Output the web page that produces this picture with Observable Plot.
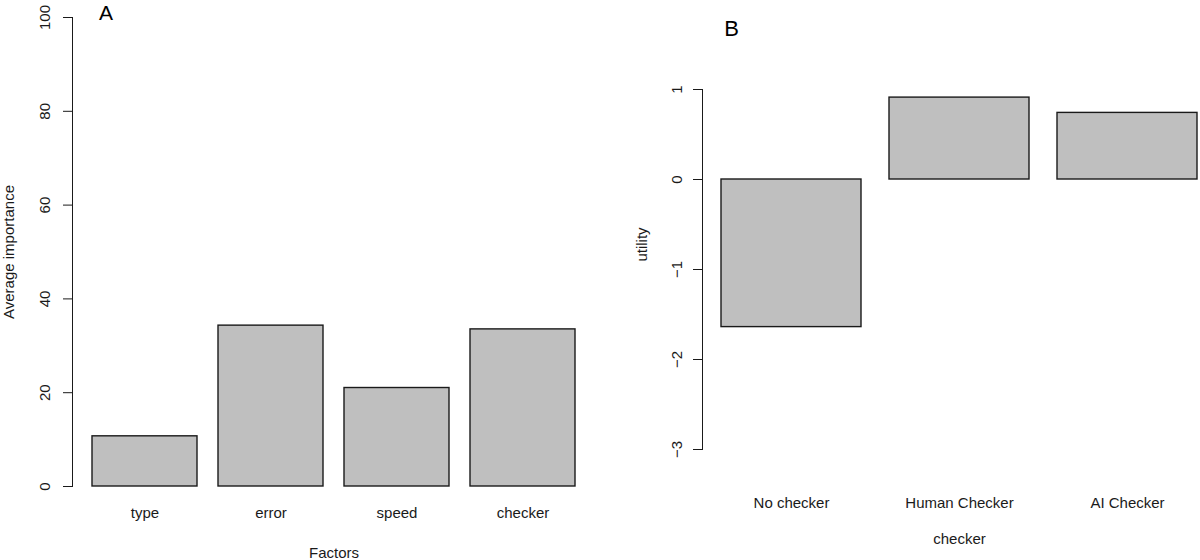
<!DOCTYPE html>
<html><head><meta charset="utf-8">
<script src="https://cdn.jsdelivr.net/npm/d3@7"></script>
<script src="https://cdn.jsdelivr.net/npm/@observablehq/plot@0.6"></script>
<style>
html,body{margin:0;padding:0;background:#fff;overflow:hidden;width:1200px;height:560px;}
#wrap{position:relative;width:1200px;height:560px;overflow:hidden;}
.panel{position:absolute;top:0;}
.panel svg{max-width:none !important;}
</style></head><body><div id="wrap"><div id="pa" class="panel" style="left:0;width:600px"></div><div id="pb" class="panel" style="left:600px;width:616px"></div></div>
<script>
// Panel A data
const factors = ["type", "error", "speed", "checker"];
const importance = [10.7, 34.3, 21.0, 33.5];
const importanceTicks = [0, 20, 40, 60, 80, 100];
// Panel B data
const checkers = ["No checker", "Human Checker", "AI Checker"];
const utility = [-1.64, 0.91, 0.74];
const utilityTicks = [-3, -2, -1, 0, 1];

const font = "'Liberation Sans', Arial, Helvetica, sans-serif";
const ink = "#1a1a1a";
const barFill = "#bfbfbf";

const dataA = factors.map((f, i) => ({factor: f, value: importance[i]}));
const dataB = checkers.map((c, i) => ({checker: c, value: utility[i]}));

const plotA = Plot.plot({
  width: 600, height: 560,
  marginLeft: 72, marginRight: 5, marginTop: 17, marginBottom: 74,
  style: {fontFamily: font, fontSize: "15px", color: ink, background: "transparent", overflow: "visible"},
  x: {type: "band", domain: factors, paddingInner: 0.1667, paddingOuter: 0.153},
  y: {domain: [0, 100]},
  marks: [
    Plot.rectY(dataA, {x: "factor", y: "value", fill: barFill, stroke: ink, strokeWidth: 1.4}),
    Plot.axisY({ticks: importanceTicks, tickSize: 9, tickFormat: () => "", stroke: ink, label: null}),
    Plot.axisX({ticks: [], label: null}),
    Plot.frame({anchor: "left", stroke: ink}),
    Plot.text(importanceTicks, {y: d => d, text: d => String(d), frameAnchor: "left", textAnchor: "middle", dx: -27, rotate: -90, fontSize: 15, fill: ink}),
    Plot.text(factors, {x: d => d, text: d => d, frameAnchor: "bottom", textAnchor: "middle", lineAnchor: "bottom", dy: 31, fontSize: 15, fill: ink}),
    Plot.text(["Factors"], {frameAnchor: "bottom", textAnchor: "middle", lineAnchor: "bottom", dy: 71, fontSize: 15, fill: ink}),
    Plot.text(["Average importance"], {frameAnchor: "left", textAnchor: "middle", dx: -63, rotate: -90, fontSize: 15, fill: ink}),
    Plot.text(["A"], {frameAnchor: "top-left", dx: 33.5, dy: 2.5, lineAnchor: "bottom", textAnchor: "middle", fontSize: 21, fill: "#000"})
  ]
});
document.getElementById("pa").appendChild(plotA);

const plotB = Plot.plot({
  width: 616, height: 560,
  marginLeft: 102, marginRight: 0, marginTop: 89, marginBottom: 111,
  style: {fontFamily: font, fontSize: "15px", color: ink, background: "transparent", overflow: "visible"},
  x: {type: "band", domain: checkers, paddingInner: 0.1667, paddingOuter: 0.113},
  y: {domain: [-3, 1]},
  marks: [
    Plot.rectY(dataB, {x: "checker", y1: 0, y2: "value", fill: barFill, stroke: ink, strokeWidth: 1.4}),
    Plot.axisY({ticks: utilityTicks, tickSize: 9, tickFormat: () => "", stroke: ink, label: null}),
    Plot.axisX({ticks: [], label: null}),
    Plot.frame({anchor: "left", stroke: ink}),
    Plot.text(utilityTicks, {y: d => d, text: d => d < 0 ? "\u2212" + Math.abs(d) : String(d), frameAnchor: "left", textAnchor: "middle", dx: -25, rotate: -90, fontSize: 15, fill: ink}),
    Plot.text(checkers, {x: d => d, text: d => d, frameAnchor: "bottom", textAnchor: "middle", lineAnchor: "bottom", dy: 58, fontSize: 15, fill: ink}),
    Plot.text(["checker"], {frameAnchor: "bottom", textAnchor: "middle", lineAnchor: "bottom", dy: 94, fontSize: 15, fill: ink}),
    Plot.text(["utility"], {frameAnchor: "left", textAnchor: "middle", dx: -60, dy: -25, rotate: -90, fontSize: 15, fill: ink}),
    Plot.text(["B"], {frameAnchor: "top-left", dx: 29, dy: -54, lineAnchor: "bottom", textAnchor: "middle", fontSize: 22, fill: "#000"})
  ]
});
document.getElementById("pb").appendChild(plotB);
</script>
</body></html>
